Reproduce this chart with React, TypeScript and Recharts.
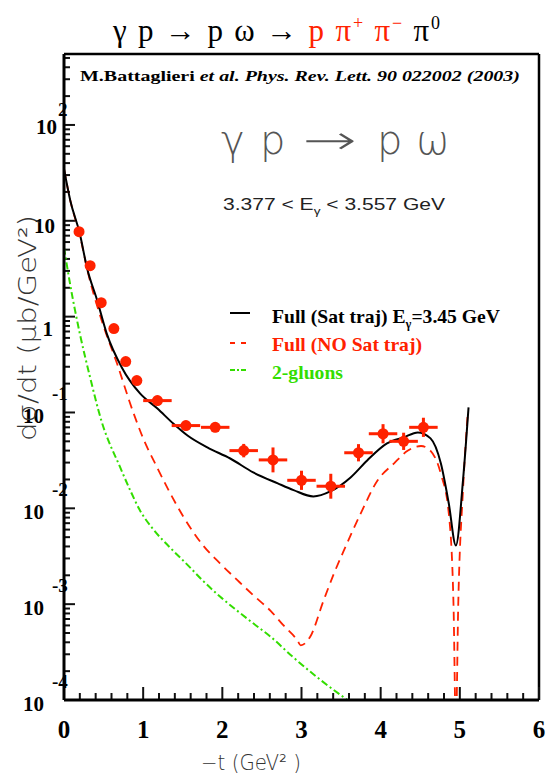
import React from 'react';
import { ComposedChart, Line, Scatter, ErrorBar, XAxis, YAxis, ReferenceLine } from 'recharts';

// Full model with saturating trajectories (black solid)
const satX = [0, 0.08, 0.2, 0.29, 0.42, 0.54, 0.73, 0.96, 1.18, 1.38, 1.56, 1.81, 2.1, 2.39, 2.7, 2.9, 3.15, 3.37, 3.62, 3.83, 4.08, 4.29, 4.47, 4.63, 4.76, 4.86, 4.95, 5.04, 5.11];
const satY = [34.7, 16.2, 7.33, 3.24, 1.47, 0.665, 0.295, 0.158, 0.11, 0.0767, 0.0575, 0.0432, 0.0331, 0.0237, 0.0182, 0.0155, 0.0133, 0.0151, 0.021, 0.0316, 0.0475, 0.055, 0.062, 0.0537, 0.0295, 0.0113, 0.0041, 0.0196, 0.113];

// Full model without saturating trajectories (red dashed)
const noSatX = [0, 0.08, 0.2, 0.3, 0.48, 0.67, 0.875, 1.0, 1.18, 1.34, 1.51, 1.76, 1.97, 2.19, 2.39, 2.61, 2.77, 2.95, 2.99, 3.11, 3.28, 3.41, 3.53, 3.75, 3.96, 4.17, 4.34, 4.51, 4.63, 4.76, 4.86, 4.92, 4.95, 4.98, 5.04, 5.1];
const noSatY = [34.7, 16.2, 7.08, 2.95, 0.891, 0.324, 0.1, 0.0537, 0.0263, 0.01445, 0.00813, 0.00407, 0.00267, 0.00178, 0.00124, 0.000851, 0.000603, 0.000417, 0.000372, 0.000457, 0.0011, 0.00209, 0.00355, 0.00891, 0.0195, 0.0295, 0.0398, 0.0447, 0.0398, 0.0229, 0.00891, 0.001, 0.00005, 0.001, 0.0155, 0.098];

// 2-gluon exchange (green dash-dot)
const gluonX = [0, 0.076, 0.2, 0.33, 0.47, 0.71, 0.835, 0.96, 1.13, 1.34, 1.56, 1.76, 1.97, 2.19, 2.39, 2.61, 2.89, 3.24, 3.58];
const gluonY = [5.25, 2.21, 0.665, 0.232, 0.0832, 0.0267, 0.0155, 0.0095, 0.006, 0.00389, 0.00257, 0.00174, 0.0012, 0.000851, 0.000631, 0.000457, 0.000282, 0.000162, 0.0001];

// CLAS data points
const ptX = [0.19, 0.33, 0.47, 0.63, 0.78, 0.92, 1.18, 1.54, 1.91, 2.27, 2.64, 3.0, 3.37, 3.72, 4.03, 4.29, 4.54];
const ptY = [7.7, 3.4, 1.4, 0.75, 0.34, 0.215, 0.133, 0.073, 0.07, 0.04, 0.032, 0.0196, 0.017, 0.038, 0.06, 0.05, 0.07];
const ptXErr = [0, 0, 0, 0, 0, 0, 0.18, 0.18, 0.18, 0.18, 0.18, 0.18, 0.18, 0.18, 0.18, 0.18, 0.18];
// vertical errors, in decades
const ptYErr = [0.03, 0.03, 0.03, 0.03, 0.04, 0.04, 0.05, 0.05, 0.05, 0.07, 0.13, 0.1, 0.13, 0.09, 0.1, 0.09, 0.1];

const xTicks = [0, 0.2, 0.4, 0.6, 0.8, 1, 1.2, 1.4, 1.6, 1.8, 2, 2.2, 2.4, 2.6, 2.8, 3, 3.2, 3.4, 3.6, 3.8, 4, 4.2, 4.4, 4.6, 4.8, 5, 5.2, 5.4, 5.6, 5.8, 6];
const yDecades = [1e-4, 1e-3, 1e-2, 1e-1, 1, 10, 100];
const yMinorMult = [2, 3, 4, 5, 6, 7, 8, 9];

const RED = '#ff2200';
const GREEN = '#33dd00';
const SERIF = "'Liberation Serif', 'Times New Roman', serif";
const SANS = "'Liberation Sans', Arial, sans-serif";
const THIN = "'DejaVu Sans', sans-serif";
const X_MAX = 6;
const Y_MIN = 1e-4;
const Y_MAX = 550;
// plot box: left 64, right 539, top 54, bottom 700
const PX_PER_X = 475 / X_MAX;
const PX_PER_DECADE = 646 / Math.log10(Y_MAX / Y_MIN);

const satData = satX.map((x, i) => ({ x, y: satY[i] }));
const noSatData = noSatX.map((x, i) => ({ x, y: noSatY[i] }));
const gluonData = gluonX.map((x, i) => ({ x, y: gluonY[i] }));
const points = ptX.map((x, i) => {
  const y = ptY[i];
  const f = Math.pow(10, ptYErr[i]);
  return { x, y, ex: ptXErr[i], ey: [y - y / f, y * f - y] };
});

const yTicks: number[] = [];
yDecades.forEach((d) => {
  yTicks.push(d);
  yMinorMult.forEach((m) => {
    if (m * d < Y_MAX) yTicks.push(m * d);
  });
});

const isMajorX = (v: number) => Math.abs(v - Math.round(v)) < 1e-6;
const isMajorY = (v: number) => Math.abs(Math.log10(v) - Math.round(Math.log10(v))) < 1e-6;

const XTick = (props: any) => {
  const { x, y, payload } = props;
  const v = payload.value;
  if (!isMajorX(v)) return <g />;
  return (
    <text x={x} y={y + 38} textAnchor="middle" fontFamily={SERIF} fontWeight="bold" fontSize={25} fill="#000">
      {Math.round(v)}
    </text>
  );
};

const YTick = (props: any) => {
  const { x, y, payload } = props;
  const v = payload.value;
  if (!isMajorY(v)) return <g />;
  const e = Math.round(Math.log10(v));
  const lab = { fontFamily: SERIF, fontWeight: 'bold' as const, fill: '#000' };
  if (e === 0) {
    return <text x={x - 11} y={y + 19} textAnchor="end" fontSize={21} {...lab}>1</text>;
  }
  if (e === 1) {
    return <text x={x - 9} y={y + 12} textAnchor="end" fontSize={21} {...lab}>10</text>;
  }
  if (e > 1) {
    return (
      <g>
        <text x={x - 7} y={y + 9} textAnchor="end" fontSize={21} {...lab}>10</text>
        <text x={x - 6} y={y - 9} textAnchor="start" fontSize={19} {...lab}>{e}</text>
      </g>
    );
  }
  return (
    <g>
      <text x={x - 20} y={y + 11} textAnchor="end" fontSize={21} {...lab}>10</text>
      <text x={x - 12} y={y - 12} textAnchor="start" fontSize={19} {...lab}>{e}</text>
    </g>
  );
};

const Overlay = () => (
  <svg width={546} height={774} style={{ position: 'absolute', left: 0, top: 0, pointerEvents: 'none' }}>
    {/* title */}
    <text x={113} y={41} fontFamily={SERIF} fontSize={31} fill="#000" textLength={327} lengthAdjust="spacing">
      <tspan>γ p → p ω → </tspan>
      <tspan fill={RED}>p π</tspan>
      <tspan fill={RED} fontSize={18} dy={-12}>+</tspan>
      <tspan fill={RED} dy={12}> π</tspan>
      <tspan fill={RED} fontSize={18} dy={-12}>−</tspan>
      <tspan dy={12}> π</tspan>
      <tspan fontSize={18} dy={-12}>0</tspan>
    </text>
    {/* reference */}
    <text x={80} y={81} fontFamily={SERIF} fontWeight="bold" fontSize={15} fill="#000" textLength={440} lengthAdjust="spacingAndGlyphs">
      <tspan>M.Battaglieri </tspan>
      <tspan fontStyle="italic">et al.  Phys. Rev. Lett.  90 022002 (2003)</tspan>
    </text>
    {/* reaction */}
    <g fontFamily={THIN} fontWeight={200} fontSize={40} fill="#555">
      <text x={221} y={154}>γ</text>
      <text x={260} y={154}>p</text>
      <text x={303} y={154} textLength={54} lengthAdjust="spacingAndGlyphs">→</text>
      <text x={377} y={154}>p</text>
      <text x={416} y={154}>ω</text>
    </g>
    <text x={223} y={210} fontFamily={SANS} fontSize={17} fill="#222" textLength={222} lengthAdjust="spacingAndGlyphs">
      <tspan>3.377 &lt; E</tspan>
      <tspan fontSize={11} dy={5}>γ</tspan>
      <tspan dy={-5}> &lt; 3.557 GeV</tspan>
    </text>
    {/* legend */}
    <line x1={230} x2={250} y1={313} y2={313} stroke="#000" strokeWidth={2} />
    <line x1={230} x2={250} y1={343} y2={343} stroke={RED} strokeWidth={2} strokeDasharray="5 6" />
    <line x1={230} x2={250} y1={370} y2={370} stroke={GREEN} strokeWidth={2} strokeDasharray="5 2 2 2 5" />
    <g fontFamily={SERIF} fontWeight="bold" fontSize={19}>
      <text x={272} y={323} fill="#000" textLength={228} lengthAdjust="spacingAndGlyphs">
        <tspan>Full (Sat traj) E</tspan>
        <tspan fontSize={12} dy={5}>γ</tspan>
        <tspan dy={-5}>=3.45 GeV</tspan>
      </text>
      <text x={272} y={351} fill={RED} textLength={150} lengthAdjust="spacingAndGlyphs">Full (NO Sat traj)</text>
      <text x={272} y={379} fill={GREEN} textLength={71} lengthAdjust="spacingAndGlyphs">2-gluons</text>
    </g>
    {/* axis titles */}
    <text x={36} y={328} transform="rotate(-90 36 328)" textAnchor="middle" fontFamily={THIN} fontWeight={200} fontSize={24} fill="#333" textLength={226} lengthAdjust="spacingAndGlyphs">
      dσ/dt (μb/GeV²)
    </text>
    <text x={201} y={770} fontFamily={THIN} fontWeight={200} fontSize={21} fill="#333" textLength={100} lengthAdjust="spacingAndGlyphs">
      −t  (GeV² )
    </text>
  </svg>
);

export default function App() {
  return (
    <div style={{ position: 'absolute', left: 0, top: 0, width: 546, height: 774, background: '#fff' }}>
      <ComposedChart width={546} height={774} margin={{ top: 54, right: 7, bottom: 44, left: 4 }}>
        <XAxis
          dataKey="x"
          type="number"
          domain={[0, X_MAX]}
          ticks={xTicks}
          interval={0}
          height={30}
          tickSize={0}
          tickMargin={0}
          tickLine={false}
          tick={<XTick />}
          axisLine={{ stroke: '#000', strokeWidth: 3 }}
        />
        <YAxis
          type="number"
          scale="log"
          domain={[Y_MIN, Y_MAX]}
          ticks={yTicks}
          interval={0}
          allowDataOverflow
          width={60}
          tickSize={0}
          tickMargin={0}
          tickLine={false}
          tick={<YTick />}
          axisLine={{ stroke: '#000', strokeWidth: 3 }}
        />
        {/* frame: top and right edges */}
        <ReferenceLine x={X_MAX} stroke="#000" strokeWidth={2.5} ifOverflow="visible" />
        <ReferenceLine y={Y_MAX} stroke="#000" strokeWidth={2.5} ifOverflow="visible" />
        {/* inward tick marks */}
        {xTicks.map((v) => {
          const len = isMajorX(v) ? 13 : 7;
          return (
            <ReferenceLine
              key={`xt${v}`}
              segment={[{ x: v, y: Y_MIN }, { x: v, y: Y_MIN * Math.pow(10, len / PX_PER_DECADE) }]}
              stroke="#111"
              strokeWidth={2}
              ifOverflow="visible"
            />
          );
        })}
        {yTicks.map((v) => {
          const len = isMajorY(v) ? 11 : 6;
          return (
            <ReferenceLine
              key={`yt${v}`}
              segment={[{ x: 0, y: v }, { x: len / PX_PER_X, y: v }]}
              stroke="#111"
              strokeWidth={2}
              ifOverflow="visible"
            />
          );
        })}
        <Line data={gluonData} dataKey="y" type="monotone" stroke={GREEN} strokeWidth={2} strokeDasharray="7 3 2 3" dot={false} activeDot={false} isAnimationActive={false} />
        <Line data={noSatData} dataKey="y" type="monotone" stroke={RED} strokeWidth={1.8} strokeDasharray="9 6" dot={false} activeDot={false} isAnimationActive={false} />
        <Line data={satData} dataKey="y" type="monotone" stroke="#000" strokeWidth={2} dot={false} activeDot={false} isAnimationActive={false} />
        <Scatter
          data={points}
          dataKey="y"
          isAnimationActive={false}
          shape={(p: any) => <circle cx={p.cx} cy={p.cy} r={5.5} fill={RED} />}
        >
          <ErrorBar dataKey="ex" direction="x" width={0} stroke={RED} strokeWidth={3} />
          <ErrorBar dataKey="ey" direction="y" width={0} stroke={RED} strokeWidth={3} />
        </Scatter>
      </ComposedChart>
      <Overlay />
    </div>
  );
}
